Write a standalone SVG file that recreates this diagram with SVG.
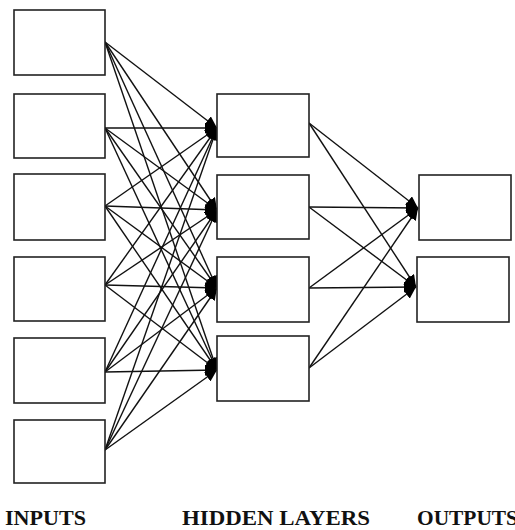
<svg xmlns="http://www.w3.org/2000/svg" width="515" height="530" viewBox="0 0 515 530">
<style>
.box{fill:#fff;stroke:#222;stroke-width:1.6}
.edge{stroke:#111;stroke-width:1.4;fill:none;marker-end:url(#ah)}
.lbl{font-family:"Liberation Serif","Times New Roman",serif;font-weight:bold;font-size:21px;fill:#111}
</style>
<defs>
<marker id="ah" markerUnits="userSpaceOnUse" markerWidth="13" markerHeight="11" refX="12" refY="5.5" orient="auto">
<path d="M0,0 L12,5.5 L0,11 z" fill="#000"/>
</marker>
</defs>
<rect width="515" height="530" fill="#fff"/>
<g id="connectors">
<line class="edge" x1="105" y1="42" x2="217" y2="128"/>
<line class="edge" x1="105" y1="42" x2="217" y2="210"/>
<line class="edge" x1="105" y1="42" x2="217" y2="288"/>
<line class="edge" x1="105" y1="42" x2="217" y2="370"/>
<line class="edge" x1="105" y1="128" x2="217" y2="128"/>
<line class="edge" x1="105" y1="128" x2="217" y2="210"/>
<line class="edge" x1="105" y1="128" x2="217" y2="288"/>
<line class="edge" x1="105" y1="128" x2="217" y2="370"/>
<line class="edge" x1="105" y1="206" x2="217" y2="128"/>
<line class="edge" x1="105" y1="206" x2="217" y2="210"/>
<line class="edge" x1="105" y1="206" x2="217" y2="288"/>
<line class="edge" x1="105" y1="206" x2="217" y2="370"/>
<line class="edge" x1="105" y1="285" x2="217" y2="128"/>
<line class="edge" x1="105" y1="285" x2="217" y2="210"/>
<line class="edge" x1="105" y1="285" x2="217" y2="288"/>
<line class="edge" x1="105" y1="285" x2="217" y2="370"/>
<line class="edge" x1="105" y1="372" x2="217" y2="128"/>
<line class="edge" x1="105" y1="372" x2="217" y2="210"/>
<line class="edge" x1="105" y1="372" x2="217" y2="288"/>
<line class="edge" x1="105" y1="372" x2="217" y2="370"/>
<line class="edge" x1="105" y1="450" x2="217" y2="128"/>
<line class="edge" x1="105" y1="450" x2="217" y2="210"/>
<line class="edge" x1="105" y1="450" x2="217" y2="288"/>
<line class="edge" x1="105" y1="450" x2="217" y2="370"/>
<line class="edge" x1="309" y1="123" x2="418" y2="208"/>
<line class="edge" x1="309" y1="123" x2="416" y2="287"/>
<line class="edge" x1="309" y1="207" x2="418" y2="208"/>
<line class="edge" x1="309" y1="207" x2="416" y2="287"/>
<line class="edge" x1="309" y1="288" x2="418" y2="208"/>
<line class="edge" x1="309" y1="288" x2="416" y2="287"/>
<line class="edge" x1="309" y1="368" x2="418" y2="208"/>
<line class="edge" x1="309" y1="368" x2="416" y2="287"/>
</g>
<g id="in1"><rect class="box" x="14" y="10" width="91" height="65"/></g>
<g id="in2"><rect class="box" x="14" y="94" width="91" height="64"/></g>
<g id="in3"><rect class="box" x="14" y="174" width="91" height="66"/></g>
<g id="in4"><rect class="box" x="14" y="257" width="91" height="64"/></g>
<g id="in5"><rect class="box" x="14" y="338" width="91" height="65"/></g>
<g id="in6"><rect class="box" x="14" y="420" width="91" height="63"/></g>
<g id="h1"><rect class="box" x="217" y="94" width="92" height="63"/></g>
<g id="h2"><rect class="box" x="217" y="175" width="92" height="64"/></g>
<g id="h3"><rect class="box" x="217" y="257" width="92" height="65"/></g>
<g id="h4"><rect class="box" x="217" y="336" width="92" height="65"/></g>
<g id="o1"><rect class="box" x="419" y="175" width="92" height="65"/></g>
<g id="o2"><rect class="box" x="417" y="257" width="92" height="65"/></g>
<g id="labels">
<text class="lbl" x="5" y="525" textLength="81" lengthAdjust="spacingAndGlyphs">INPUTS</text>
<text class="lbl" x="182" y="525" textLength="188" lengthAdjust="spacingAndGlyphs">HIDDEN LAYERS</text>
<text class="lbl" x="417" y="525" textLength="101" lengthAdjust="spacingAndGlyphs">OUTPUTS</text>
</g>
</svg>
